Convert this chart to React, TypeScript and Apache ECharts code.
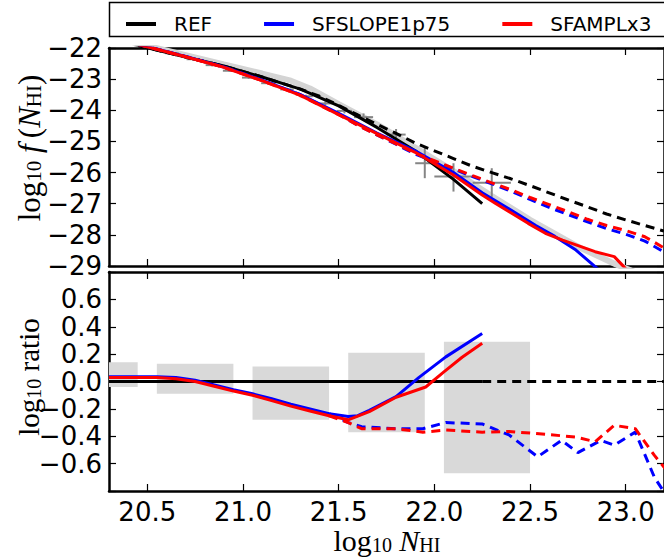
import React, { useEffect, useRef } from "react";
import * as echarts from "echarts";

// ---------- shared axis ticks ----------
const xTicks = [20.5, 21.0, 21.5, 22.0, 22.5, 23.0];

// ---------- upper panel: log10 f(N_HI) ----------
const refX = [20.3, 20.5, 20.7, 20.9, 21.1, 21.3, 21.5, 21.7, 21.9, 22.1, 22.25];
const refY = [-21.7, -21.99, -22.29, -22.58, -22.93, -23.32, -23.86, -24.55, -25.3, -26.22, -27.0];

const refDashX = [20.3, 20.5, 20.7, 20.9, 21.1, 21.3, 21.4, 21.5, 21.6, 21.7, 21.8, 21.9, 22.0, 22.1, 22.2, 22.3, 22.4, 22.5, 22.6, 22.7, 22.8, 22.9, 23.0, 23.1, 23.2];
const refDashY = [-21.7, -21.99, -22.29, -22.58, -22.93, -23.32, -23.55, -23.84, -24.15, -24.45, -24.74, -25.05, -25.3, -25.55, -25.8, -26.0, -26.2, -26.42, -26.65, -26.88, -27.1, -27.33, -27.52, -27.7, -27.88];

const slopeX = [20.3, 20.5, 20.7, 20.9, 21.1, 21.3, 21.5, 21.7, 21.9, 22.1, 22.25, 22.4, 22.53, 22.63, 22.74, 22.84, 22.92];
const slopeY = [-21.665, -21.955, -22.27, -22.61, -23.03, -23.5, -24.1, -24.73, -25.3, -26.0, -26.65, -27.2, -27.7, -28.05, -28.49, -29.02, -29.4];

const amplX = [20.3, 20.5, 20.7, 20.9, 21.1, 21.3, 21.5, 21.7, 21.9, 22.1, 22.25, 22.32, 22.49, 22.58, 22.67, 22.84, 22.94, 22.99, 23.03];
const amplY = [-21.67, -21.96, -22.28, -22.62, -23.05, -23.52, -24.14, -24.75, -25.35, -26.08, -26.72, -26.99, -27.63, -27.95, -28.17, -28.54, -28.7, -29.02, -29.3];

const modelDashX = [20.3, 20.5, 20.7, 20.9, 21.1, 21.3, 21.5, 21.6, 21.7, 21.8, 21.9, 22.0, 22.1, 22.2, 22.3, 22.4, 22.5, 22.6, 22.7, 22.8, 22.9, 23.0, 23.1, 23.2];
const slopeDashY = [-21.665, -21.955, -22.27, -22.61, -23.03, -23.5, -24.12, -24.48, -24.79, -25.09, -25.41, -25.64, -25.88, -26.13, -26.36, -26.6, -26.86, -27.12, -27.35, -27.58, -27.8, -27.98, -28.2, -28.55];
const amplDashY = [-21.67, -21.96, -22.28, -22.62, -23.05, -23.52, -24.14, -24.48, -24.79, -25.08, -25.38, -25.62, -25.86, -26.1, -26.33, -26.55, -26.8, -27.03, -27.26, -27.5, -27.7, -27.86, -28.06, -28.42];

// observational fit (broad grey band)
const obsX = [20.3, 20.5, 20.7, 20.9, 21.1, 21.25, 21.35, 21.5, 21.7, 21.9, 22.1, 22.3, 22.5, 22.75, 22.95, 23.05];
const obsY = [-21.62, -21.93, -22.23, -22.53, -22.82, -23.05, -23.3, -23.8, -24.45, -25.2, -25.95, -26.75, -27.52, -28.38, -28.95, -29.2];

// binned measurements with error bars
const ptX = [20.63, 20.74, 20.84, 20.93, 21.03, 21.13, 21.23, 21.33, 21.43, 21.53, 21.63, 21.8, 21.95, 22.1, 22.3];
const ptY = [-22.17, -22.36, -22.55, -22.73, -22.95, -23.13, -23.33, -23.55, -23.78, -24.02, -24.22, -24.78, -25.7, -26.13, -26.33];
const ptXErr = [0.035, 0.035, 0.035, 0.035, 0.035, 0.035, 0.035, 0.035, 0.035, 0.04, 0.05, 0.05, 0.05, 0.1, 0.1];
const ptYErrLo = [0.04, 0.04, 0.04, 0.04, 0.04, 0.04, 0.05, 0.05, 0.06, 0.08, 0.12, 0.18, 0.48, 0.48, 0.45];
const ptYErrHi = [0.04, 0.04, 0.04, 0.04, 0.04, 0.04, 0.05, 0.05, 0.06, 0.08, 0.12, 0.18, 0.53, 0.43, 0.47];

// ---------- lower panel: log10 ratio ----------
const refRatioX = [20.3, 22.25];
const refRatioY = [0, 0];
const refDashRatioX = [22.25, 23.2];
const refDashRatioY = [0, 0];

const slopeRatioX = [20.3, 20.45, 20.55, 20.65, 20.75, 20.85, 20.95, 21.05, 21.15, 21.25, 21.35, 21.45, 21.55, 21.6, 21.66, 21.8, 21.92, 22.06, 22.25];
const slopeRatioY = [0.035, 0.035, 0.035, 0.03, 0.01, -0.025, -0.06, -0.09, -0.125, -0.165, -0.2, -0.235, -0.255, -0.25, -0.21, -0.11, 0.03, 0.18, 0.35];
const amplRatioX = [20.3, 20.45, 20.55, 20.65, 20.75, 20.85, 20.95, 21.05, 21.15, 21.25, 21.35, 21.45, 21.55, 21.66, 21.8, 21.955, 22.05, 22.145, 22.25];
const amplRatioY = [0.03, 0.03, 0.03, 0.02, 0.0, -0.035, -0.07, -0.1, -0.14, -0.18, -0.215, -0.25, -0.28, -0.22, -0.115, -0.04, 0.07, 0.177, 0.28];

const slopeDashRatioX = [21.45, 21.55, 21.62, 21.8, 21.94, 22.06, 22.25, 22.39, 22.54, 22.665, 22.75, 22.87, 22.94, 23.05, 23.15, 23.22];
const slopeDashRatioY = [-0.235, -0.3, -0.33, -0.345, -0.345, -0.3, -0.31, -0.39, -0.55, -0.43, -0.52, -0.43, -0.465, -0.37, -0.7, -0.85];
const amplDashRatioX = [21.45, 21.55, 21.62, 21.8, 21.94, 22.06, 22.25, 22.39, 22.53, 22.735, 22.84, 22.94, 23.05, 23.15, 23.22];
const amplDashRatioY = [-0.25, -0.3, -0.345, -0.345, -0.37, -0.355, -0.37, -0.365, -0.38, -0.405, -0.44, -0.32, -0.345, -0.54, -0.66];

// measurement uncertainty boxes: [x0, x1, yLow, yHigh]
const boxX0 = [20.3, 20.55, 21.05, 21.55, 22.05];
const boxX1 = [20.45, 20.95, 21.45, 21.95, 22.5];
const boxLo = [-0.04, -0.09, -0.28, -0.37, -0.67];
const boxHi = [0.14, 0.13, 0.11, 0.21, 0.29];

const BLACK = "#000000";
const BLUE = "#0000ff";
const RED = "#ff0000";
const TICK_FONT = "DejaVu Sans";
const MATH_FONT = "Liberation Serif";

const pairs = (xs: number[], ys: number[]) => xs.map((x, i) => [x, ys[i]]);
const minus = (s: string) => s.replace("-", "\u2212");

function line(name: string, grid: number, xs: number[], ys: number[], color: string, dashed: boolean) {
  return {
    type: "line",
    name,
    xAxisIndex: grid * 2,
    yAxisIndex: grid * 2,
    data: pairs(xs, ys),
    showSymbol: false,
    symbol: "none",
    color,
    itemStyle: { color },
    lineStyle: { color, width: 3, type: dashed ? [9, 6] : "solid", cap: "butt" },
    clip: true,
    silent: true,
    z: 3,
  };
}

function xAxes(grid: number, labels: boolean) {
  const base = {
    gridIndex: grid,
    type: "value",
    min: 20.3,
    max: 23.2,
    splitLine: { show: false },
    axisLine: { show: true, onZero: false, lineStyle: { color: BLACK, width: 2.5 } },
    axisTick: { show: true, inside: true, length: 7, customValues: xTicks, lineStyle: { color: BLACK, width: 1.2 } },
  };
  return [
    {
      ...base,
      position: "bottom",
      axisLabel: {
        show: labels,
        customValues: xTicks,
        margin: 8,
        fontFamily: TICK_FONT,
        fontSize: 26,
        color: BLACK,
        formatter: (v: number) => v.toFixed(1),
      },
    },
    { ...base, position: "top", axisLabel: { show: false } },
  ];
}

function yAxes(grid: number, min: number, max: number, interval: number, fmt: (v: number) => string) {
  const base = {
    gridIndex: grid,
    type: "value",
    min,
    max,
    interval,
    splitLine: { show: false },
    axisLine: { show: true, onZero: false, lineStyle: { color: BLACK, width: 2.5 } },
    axisTick: { show: true, inside: true, length: 7, lineStyle: { color: BLACK, width: 1.2 } },
  };
  return [
    {
      ...base,
      position: "left",
      axisLabel: { show: true, margin: 7, fontFamily: TICK_FONT, fontSize: 26, color: BLACK, formatter: fmt },
    },
    { ...base, position: "right", axisLabel: { show: false } },
  ];
}

function mathRich(size: number) {
  const sub = Math.round(size * 0.68);
  return {
    m: { fontFamily: MATH_FONT, fontSize: size, lineHeight: size, fill: BLACK, color: BLACK, verticalAlign: "middle" },
    i: { fontFamily: MATH_FONT, fontSize: size, fontStyle: "italic", lineHeight: size, fill: BLACK, color: BLACK, verticalAlign: "middle" },
    s: { fontFamily: MATH_FONT, fontSize: sub, lineHeight: sub - 9, fill: BLACK, color: BLACK, verticalAlign: "bottom" },
  };
}

function mathText(text: string, x: number, y: number, rotation: number, size: number) {
  return {
    type: "text",
    x,
    y,
    rotation,
    silent: true,
    style: {
      text,
      rich: mathRich(size),
      fill: BLACK,
      align: "center",
      verticalAlign: "middle",
      textAlign: "center",
      textVerticalAlign: "middle",
    },
  };
}

export default function App() {
  const ref = useRef<HTMLDivElement>(null);

  useEffect(() => {
    if (!ref.current) return;
    const chart = echarts.init(ref.current, undefined, { renderer: "svg" });

    const errorBars = {
      type: "custom",
      name: "data",
      xAxisIndex: 0,
      yAxisIndex: 0,
      silent: true,
      z: 2,
      encode: { x: 0, y: 1 },
      data: ptX.map((x, i) => [x, ptY[i], ptXErr[i], ptYErrLo[i], ptYErrHi[i]]),
      renderItem: (_p: any, api: any) => {
        const x = api.value(0);
        const y = api.value(1);
        const l = api.coord([x - api.value(2), y]);
        const r = api.coord([x + api.value(2), y]);
        const b = api.coord([x, y - api.value(3)]);
        const t = api.coord([x, y + api.value(4)]);
        const style = { stroke: "#858585", lineWidth: 2 };
        return {
          type: "group",
          children: [
            { type: "line", shape: { x1: l[0], y1: l[1], x2: r[0], y2: r[1] }, style },
            { type: "line", shape: { x1: b[0], y1: b[1], x2: t[0], y2: t[1] }, style },
          ],
        };
      },
    };

    const boxes = {
      type: "custom",
      name: "boxes",
      xAxisIndex: 2,
      yAxisIndex: 2,
      silent: true,
      z: 1,
      encode: { x: [0, 1], y: [2, 3] },
      data: boxX0.map((x0, i) => [x0, boxX1[i], boxLo[i], boxHi[i]]),
      renderItem: (_p: any, api: any) => {
        const p0 = api.coord([api.value(0), api.value(3)]);
        const p1 = api.coord([api.value(1), api.value(2)]);
        return {
          type: "rect",
          shape: { x: p0[0], y: p0[1], width: p1[0] - p0[0], height: p1[1] - p0[1] },
          style: { fill: "#d9d9d9" },
        };
      },
    };

    const obsBand = {
      type: "line",
      name: "obs",
      xAxisIndex: 0,
      yAxisIndex: 0,
      data: pairs(obsX, obsY),
      showSymbol: false,
      symbol: "none",
      lineStyle: { color: "#d4d4d4", width: 6 },
      clip: true,
      silent: true,
      z: 1,
    };

    chart.setOption({
      animation: false,
      backgroundColor: "#ffffff",
      grid: [
        { left: 109, top: 48, width: 557, height: 218 },
        { left: 109, top: 272, width: 557, height: 219 },
      ],
      xAxis: [...xAxes(0, false), ...xAxes(1, true)],
      yAxis: [
        ...yAxes(0, -29, -22, 1, (v: number) => minus(String(Math.round(v)))),
        ...yAxes(1, -0.8, 0.8, 0.2, (v: number) => {
          if (Math.abs(v) > 0.75) return "";
          if (Math.abs(v) < 1e-9) return "0.0";
          return minus(v.toFixed(1));
        }),
      ],
      legend: {
        data: ["REF", "SFSLOPE1p75", "SFAMPLx3"],
        left: 121,
        top: 9,
        icon: "rect",
        itemWidth: 30,
        itemHeight: 4,
        itemGap: 52,
        selectedMode: false,
        textStyle: { fontFamily: TICK_FONT, fontSize: 20, color: BLACK, padding: [0, 0, 0, 13] },
      },
      graphic: [
        {
          type: "rect",
          z: 0,
          silent: true,
          shape: { x: 109.5, y: 2.5, width: 570, height: 34 },
          style: { fill: "#ffffff", stroke: BLACK, lineWidth: 1.5 },
        },
        mathText("{m|log}{s|10}{m| }{i|N}{s|HI}", 387, 540, 0, 30),
        mathText("{m|log}{s|10}{m| }{i|f\u2009}{m|(}{i|N}{s|HI}{m|)}", 29, 148, Math.PI / 2, 31),
        mathText("{m|log}{s|10}{m| ratio}", 29, 377, Math.PI / 2, 29),
      ],
      series: [
        obsBand,
        errorBars,
        line("REF", 0, refX, refY, BLACK, false),
        line("REF", 0, refDashX, refDashY, BLACK, true),
        line("SFSLOPE1p75", 0, slopeX, slopeY, BLUE, false),
        line("SFSLOPE1p75", 0, modelDashX, slopeDashY, BLUE, true),
        line("SFAMPLx3", 0, amplX, amplY, RED, false),
        line("SFAMPLx3", 0, modelDashX, amplDashY, RED, true),
        boxes,
        line("REF", 1, refRatioX, refRatioY, BLACK, false),
        line("REF", 1, refDashRatioX, refDashRatioY, BLACK, true),
        line("SFSLOPE1p75", 1, slopeRatioX, slopeRatioY, BLUE, false),
        line("SFSLOPE1p75", 1, slopeDashRatioX, slopeDashRatioY, BLUE, true),
        line("SFAMPLx3", 1, amplRatioX, amplRatioY, RED, false),
        line("SFAMPLx3", 1, amplDashRatioX, amplDashRatioY, RED, true),
      ],
    });

    return () => chart.dispose();
  }, []);

  return (
    <div
      ref={ref}
      style={{ position: "fixed", left: 0, top: 0, width: 664, height: 559, background: "#ffffff" }}
    />
  );
}
